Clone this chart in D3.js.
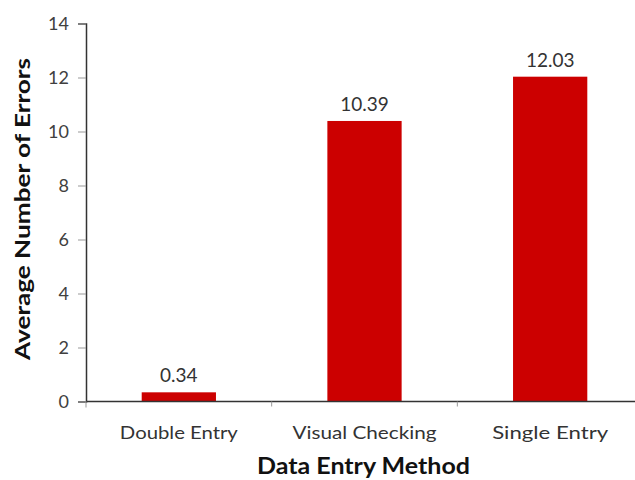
<!DOCTYPE html>
<html><head><meta charset="utf-8">
<script src="https://cdn.jsdelivr.net/npm/d3@7"></script>
<style>body{margin:0;background:#fff}text{font-family:Lato,"Open Sans",sans-serif}</style>
</head><body>
<script>
const categories = ["Double Entry", "Visual Checking", "Single Entry"];
const values = [0.34, 10.39, 12.03];
const valueLabels = ["0.34", "10.39", "12.03"];
const yTicks = [0, 2, 4, 6, 8, 10, 12, 14];
const catWidths = [118, 144, 116];

const W = 635, H = 480;
const svg = d3.select("body").append("svg").attr("width", W).attr("height", H);
const x0 = 86, x1 = 643, yTop = 23.5, yBot = 401.5;
const x = d3.scaleBand().domain(categories).range([x0, x1]).paddingInner(0.6).paddingOuter(0.3);
const y = d3.scaleLinear().domain([0, 14]).range([yBot, yTop]);

// bars
svg.selectAll("rect.bar").data(values).enter().append("rect")
  .attr("x", (d, i) => x(categories[i]))
  .attr("y", d => y(d))
  .attr("width", x.bandwidth())
  .attr("height", d => y(0) - y(d))
  .attr("fill", "#cc0000");

// value labels
svg.selectAll("text.val").data(values).enter().append("text")
  .attr("x", (d, i) => x(categories[i]) + x.bandwidth() / 2)
  .attr("y", d => y(d) - 10)
  .attr("text-anchor", "middle")
  .attr("font-size", 19).attr("fill", "#333")
  .text((d, i) => valueLabels[i]);

// y axis
const ya = svg.append("g").attr("transform", `translate(${x0},0)`)
  .call(d3.axisLeft(y).tickValues(yTicks).tickSize(8).tickPadding(9).tickFormat(d3.format("d")));
ya.select(".domain").attr("stroke", "#333").attr("stroke-width", 1.5);
ya.selectAll(".tick line").attr("stroke", "#999");
ya.selectAll("text").attr("font-size", 18).attr("fill", "#404040").style("font-family", "Lato,'Open Sans',sans-serif");

// x axis
const xa = svg.append("g").attr("transform", `translate(0,${yBot})`);
xa.append("line").attr("x1", x0).attr("x2", x1).attr("stroke", "#333").attr("stroke-width", 1.5);
const bnd = d3.scaleBand().domain(categories).range([x0, x1]);
xa.selectAll("line.t").data(categories).enter().append("line")
  .attr("x1", d => bnd(d) + bnd.bandwidth()).attr("x2", d => bnd(d) + bnd.bandwidth())
  .attr("y1", 0).attr("y2", 5).attr("stroke", "#999");
xa.append("line").attr("x1", x0).attr("x2", x0).attr("y1", 0).attr("y2", 6).attr("stroke", "#999");
xa.selectAll("text.cat").data(categories).enter().append("text")
  .attr("x", d => bnd(d) + bnd.bandwidth() / 2)
  .attr("y", 37)
  .attr("text-anchor", "middle").attr("font-size", 17).attr("fill", "#333")
  .attr("textLength", (d, i) => catWidths[i]).attr("lengthAdjust", "spacingAndGlyphs")
  .text(d => d);

// axis titles
svg.append("text").attr("x", 363.5).attr("y", 474).attr("text-anchor", "middle")
  .attr("font-size", 23).attr("font-weight", "bold").attr("fill", "#111")
  .attr("textLength", 213).attr("lengthAdjust", "spacingAndGlyphs").text("Data Entry Method");
svg.append("text").attr("transform", "translate(30,209) rotate(-90)").attr("text-anchor", "middle")
  .attr("font-size", 20).attr("font-weight", "bold").attr("fill", "#111")
  .attr("textLength", 302).attr("lengthAdjust", "spacingAndGlyphs").text("Average Number of  Errors");
</script>
</body></html>
